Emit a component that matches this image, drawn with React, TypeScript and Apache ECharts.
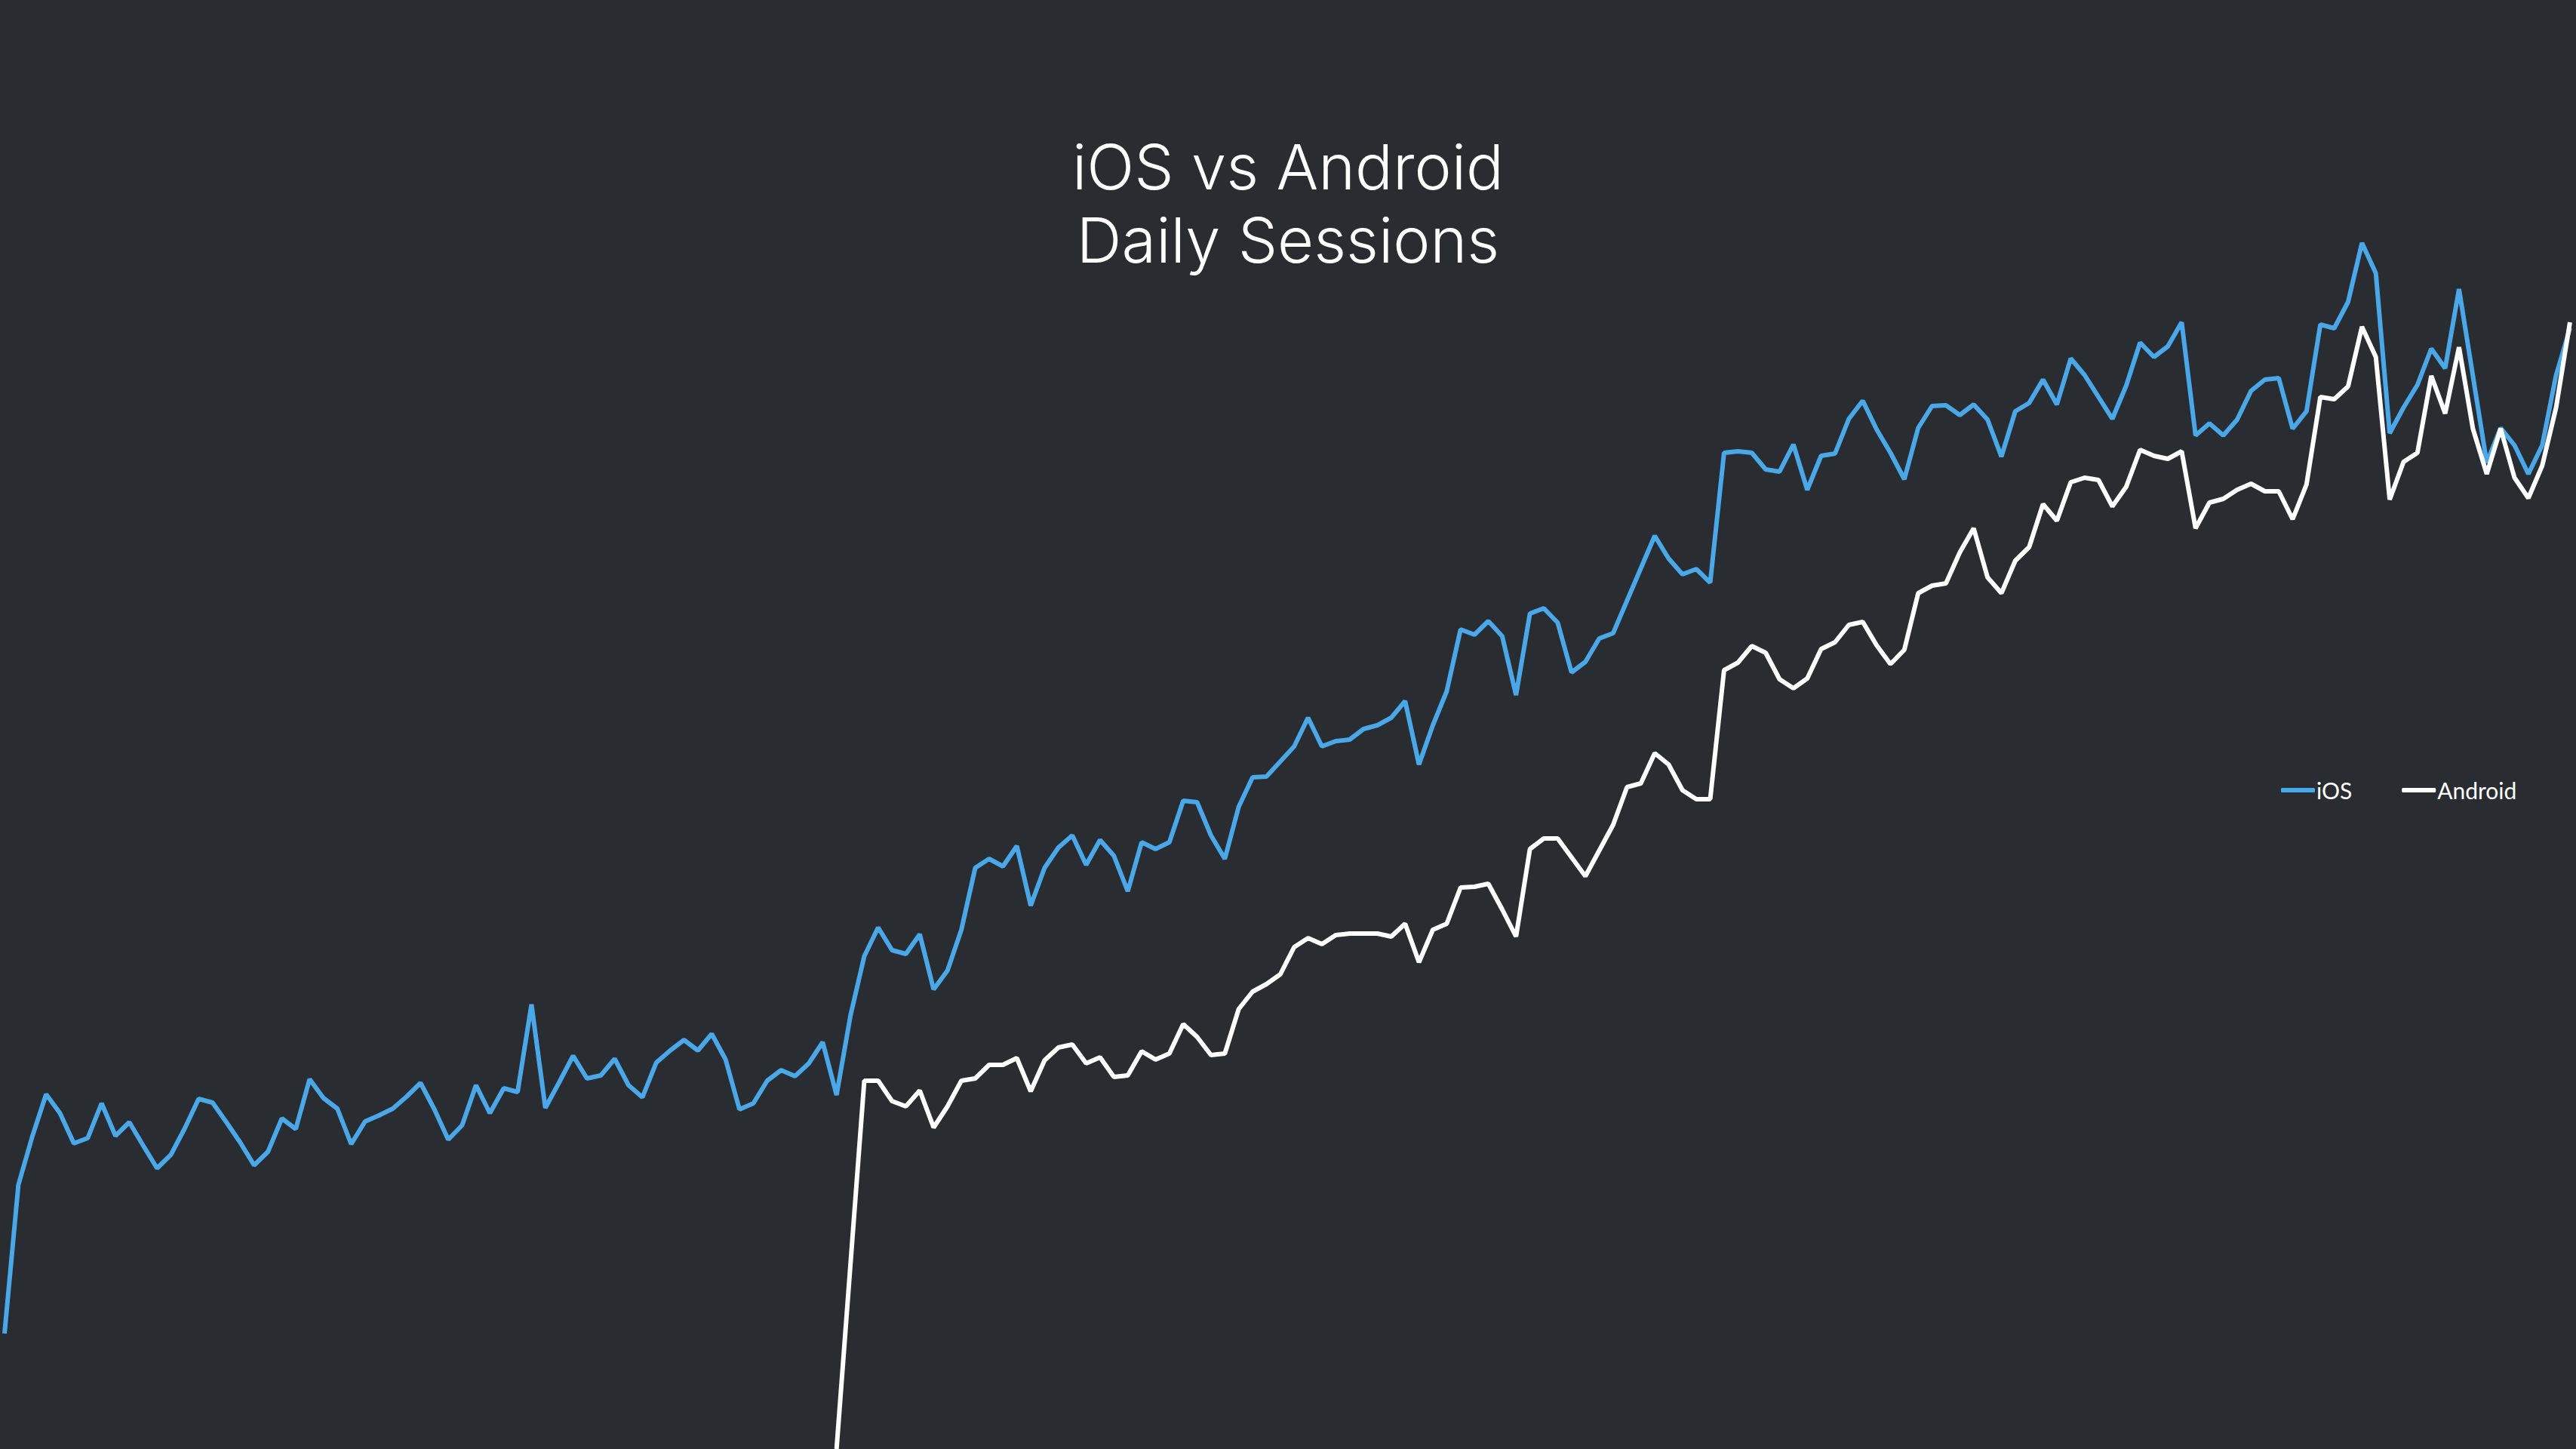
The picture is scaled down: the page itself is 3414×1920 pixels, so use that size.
import React, { useEffect, useRef } from "react";
import * as echarts from "echarts";

// Daily sessions, one value per day (186 days)
const iosSessions: number[] = [
  1530, 3500, 4140, 4700, 4450, 4050, 4120, 4580, 4150, 4330,
  4020, 3720, 3900, 4250, 4640, 4590, 4330, 4060, 3760, 3940,
  4380, 4240, 4900, 4650, 4510, 4040, 4340, 4420, 4510, 4670,
  4850, 4500, 4100, 4290, 4820, 4450, 4780, 4730, 5890, 4520,
  4860, 5210, 4910, 4950, 5170, 4820, 4660, 5120, 5280, 5420,
  5280, 5500, 5160, 4500, 4580, 4880, 5020, 4940, 5110, 5390,
  4690, 5740, 6530, 6910, 6610, 6560, 6820, 6090, 6340, 6880,
  7700, 7820, 7720, 7990, 7200, 7700, 7970, 8130, 7740, 8070,
  7860, 7390, 8040, 7950, 8040, 8590, 8570, 8130, 7820, 8510,
  8900, 8910, 9110, 9310, 9690, 9310, 9380, 9400, 9540, 9590,
  9690, 9910, 9070, 9590, 10040, 10860, 10790, 10970, 10770, 9990,
  11070, 11140, 10950, 10290, 10430, 10740, 10810, 11240, 11670, 12100,
  11800, 11590, 11660, 11480, 13200, 13220, 13200, 12980, 12950, 13310,
  12710, 13160, 13190, 13650, 13890, 13510, 13200, 12850, 13530, 13820,
  13830, 13700, 13840, 13640, 13150, 13750, 13860, 14170, 13840, 14450,
  14230, 13940, 13650, 14090, 14660, 14470, 14610, 14930, 13430, 13590,
  13430, 13640, 14020, 14170, 14190, 13520, 13750, 14900, 14850, 15200,
  15980, 15580, 13460, 13800, 14100, 14580, 14320, 15370, 14220, 13070,
  13530, 13300, 12920, 13300, 14230, 14850,
];

// Android tracking starts on day index 60 (one missing day after it)
const androidStart = 60;
const androidSessions: (number | null)[] = [
  0, null, 4880, 4880, 4610, 4540, 4750, 4260, 4540, 4880,
  4910, 5090, 5090, 5180, 4740, 5150, 5320, 5360, 5110, 5190,
  4930, 4950, 5270, 5160, 5240, 5630, 5460, 5220, 5240, 5830,
  6060, 6160, 6290, 6650, 6770, 6690, 6810, 6830, 6830, 6830,
  6790, 6960, 6450, 6880, 6960, 7440, 7450, 7490, 7150, 6790,
  7950, 8090, 8090, 7840, 7590, 7930, 8270, 8770, 8820, 9220,
  9070, 8730, 8610, 8610, 10320, 10420, 10640, 10550, 10200, 10080,
  10210, 10600, 10690, 10920, 10960, 10650, 10400, 10590, 11340, 11440,
  11470, 11880, 12200, 11550, 11340, 11770, 11950, 12520, 12300, 12810,
  12870, 12840, 12490, 12750, 13240, 13160, 13120, 13220, 12200, 12540,
  12590, 12710, 12790, 12690, 12690, 12320, 12780, 13940, 13910, 14080,
  14870, 14470, 12580, 13080, 13200, 14220, 13720, 14600, 13520, 12920,
  13520, 12870, 12600, 13030, 13800, 14930,
];

const days: string[] = iosSessions.map((_, i) => `Day ${i + 1}`);

const seriesNames = ["iOS", "Android"];
const titleLines = ["iOS vs Android", "Daily Sessions"];

export default function App() {
  const ref = useRef<HTMLDivElement>(null);

  useEffect(() => {
    if (!ref.current) return;
    const chart = echarts.init(ref.current, undefined, { renderer: "svg" });
    const androidData: (number | null)[] = new Array(androidStart).fill(null).concat(androidSessions);
    const titleStyle = {
      color: "#ffffff",
      fontFamily: "Inter",
      fontWeight: 300,
      fontSize: 83,
      lineHeight: 90,
    };
    chart.setOption({
      animation: false,
      backgroundColor: "#292d32",
      title: titleLines.map((t, i) => ({
        text: t,
        left: "center",
        top: 176 + i * 97,
        padding: 0,
        textStyle: titleStyle,
      })),
      legend: {
        data: seriesNames,
        left: 3018,
        top: 1027,
        icon: "roundRect",
        itemWidth: 45,
        itemHeight: 6,
        itemGap: 66,
        textStyle: {
          color: "#ffffff",
          fontFamily: "Lato",
          fontSize: 30,
          padding: [0, 0, 0, -3],
        },
      },
      grid: { left: 6, right: 8, top: 0, bottom: 0, containLabel: false },
      xAxis: {
        type: "category",
        data: days,
        boundaryGap: false,
        show: false,
      },
      yAxis: {
        type: "value",
        min: 0,
        max: 19200,
        show: false,
      },
      series: [
        {
          name: seriesNames[0],
          type: "line",
          data: iosSessions,
          showSymbol: false,
          symbol: "none",
          color: "#4ba8e8",
          lineStyle: { width: 6, color: "#4ba8e8" },
        },
        {
          name: seriesNames[1],
          type: "line",
          data: androidData,
          connectNulls: true,
          showSymbol: false,
          symbol: "none",
          color: "#ffffff",
          lineStyle: { width: 6, color: "#ffffff" },
        },
      ],
    });
    return () => chart.dispose();
  }, []);

  return (
    <div
      ref={ref}
      style={{ position: "fixed", left: 0, top: 0, width: 3414, height: 1920 }}
    />
  );
}
